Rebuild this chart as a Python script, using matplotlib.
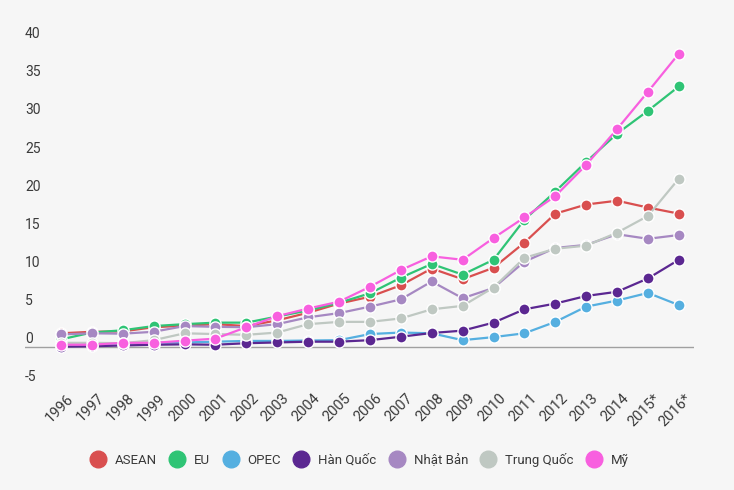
import matplotlib
matplotlib.use("Agg")
import matplotlib.pyplot as plt
import matplotlib.transforms as mtransforms
from matplotlib.lines import Line2D
import numpy as np

plt.rcParams['font.family'] = ['Roboto', 'DejaVu Sans']

years = ['1996', '1997', '1998', '1999', '2000', '2001', '2002', '2003', '2004', '2005',
         '2006', '2007', '2008', '2009', '2010', '2011', '2012', '2013', '2014', '2015*', '2016*']

asean = [1.8, 2.0, 2.05, 2.6, 2.8, 3.0, 2.75, 3.5, 4.5, 5.7, 6.6, 8.1, 10.3, 8.9, 10.4,
         13.7, 17.5, 18.7, 19.2, 18.3, 17.5]
eu = [1.0, 1.9, 2.2, 2.75, 3.0, 3.2, 3.2, 4.0, 4.8, 5.8, 7.05, 9.1, 10.9, 9.5, 11.45,
      16.7, 20.4, 24.3, 28.0, 31.0, 34.2]
opec = [0.3, 0.35, 0.45, 0.55, 0.6, 0.7, 0.8, 0.8, 0.85, 0.9, 1.7, 1.9, 1.8, 0.9, 1.3,
        1.8, 3.3, 5.3, 6.1, 7.1, 5.5]
han_quoc = [0.05, 0.1, 0.2, 0.3, 0.35, 0.3, 0.5, 0.6, 0.7, 0.7, 0.9, 1.35, 1.84, 2.15, 3.2,
            4.95, 5.7, 6.7, 7.25, 9.0, 11.45]
nhat_ban = [1.65, 1.8, 1.75, 2.0, 2.75, 2.65, 2.6, 3.0, 3.9, 4.45, 5.3, 6.25, 8.6, 6.4, 7.75,
            11.2, 13.0, 13.4, 14.8, 14.2, 14.7]
trung_quoc = [0.55, 0.55, 0.5, 0.9, 1.8, 1.7, 1.6, 1.9, 3.0, 3.3, 3.3, 3.75, 4.95, 5.4, 7.8,
              11.7, 12.9, 13.3, 15.0, 17.2, 22.1]
my = [0.3, 0.3, 0.55, 0.55, 0.83, 1.1, 2.6, 4.05, 5.05, 5.95, 7.9, 10.1, 11.9, 11.45, 14.3,
      17.0, 19.8, 23.9, 28.6, 33.5, 38.5]

names = ['ASEAN', 'EU', 'OPEC', 'Hàn Quốc', 'Nhật Bản', 'Trung Quốc', 'Mỹ']
series = [asean, eu, opec, han_quoc, nhat_ban, trung_quoc, my]
colors = ['#d94f4f', '#2fc475', '#55afe0', '#5b2791', '#a688c2', '#bfc8c2', '#f85fdf']

yticks = [-5, 0, 5, 10, 15, 20, 25, 30, 35, 40]

bg = '#f6f6f6'
txt = '#3a3a3a'

fig = plt.figure(figsize=(7.34, 4.9), dpi=100, facecolor=bg)
ax = fig.add_axes([25 / 734, 1 - 390 / 490, (694 - 25) / 734, 360 / 490])
ax.set_facecolor(bg)

x = np.arange(len(years))
for vals, c in zip(series, colors):
    ax.plot(x, vals, color=c, lw=1.6, marker='o', ms=8, mfc=c,
            mec='white', mew=1.0, solid_capstyle='round')

ax.axhline(0, color='#a0a0a0', lw=1, zorder=0.5)

ax.set_xlim(-1.165, 20.49)
ax.set_ylim(-5.64, 41.6)

for s in ax.spines.values():
    s.set_visible(False)

ax.set_yticks(yticks)
ax.set_yticklabels([str(v) for v in yticks])
ax.tick_params(axis='y', length=0, pad=0, labelsize=10, labelcolor=txt)
for lab in ax.get_yticklabels():
    lab.set_horizontalalignment('left')
    lab.set_verticalalignment('center')
    lab.set_transform(lab.get_transform() +
                      mtransforms.ScaledTranslation(0, 8 / 100, fig.dpi_scale_trans))

ax.set_xticks(x)
ax.set_xticklabels(years, rotation=45, ha='right', va='top', rotation_mode='anchor')
ax.tick_params(axis='x', length=0, pad=1, labelsize=10.5, labelcolor=txt)
for lab in ax.get_xticklabels():
    lab.set_transform(lab.get_transform() +
                      mtransforms.ScaledTranslation(5 / 100, 0, fig.dpi_scale_trans))

handles = [Line2D([], [], ls='none', marker='o', ms=12, mfc=c, mec=c) for c in colors]
fig.legend(handles, names, loc='center', bbox_to_anchor=(359.5 / 734, 1 - 460 / 490),
           ncol=7, frameon=False, fontsize=9.5, handlelength=1.2, handletextpad=0.7,
           columnspacing=0.92, labelcolor=txt)

fig.savefig('out.png', dpi=100, facecolor=bg)
